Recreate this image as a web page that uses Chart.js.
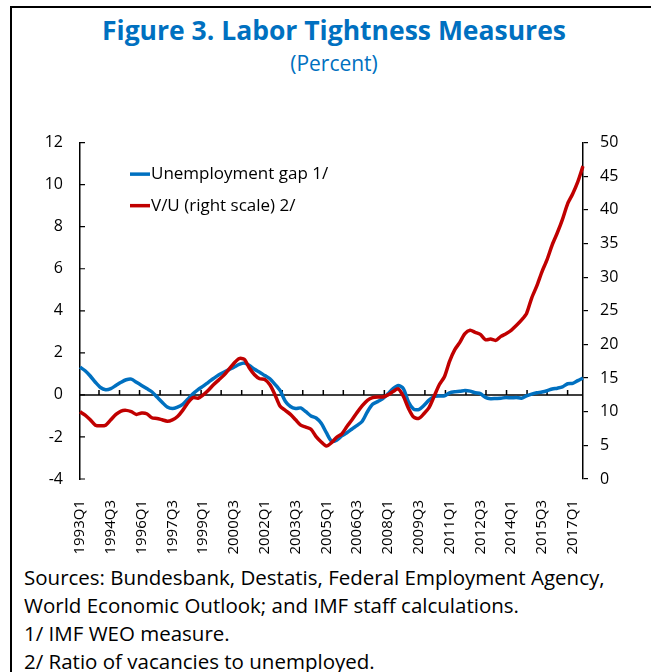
<!DOCTYPE html>
<html><head><meta charset="utf-8">
<script src="https://cdn.jsdelivr.net/npm/chart.js@4/dist/chart.umd.min.js"></script>
<style>
html,body{margin:0;padding:0;background:#fff;}
body{width:651px;height:672px;position:relative;overflow:hidden;font-family:"Open Sans",sans-serif;}
#frame{position:absolute;left:10px;top:6px;width:700px;height:720px;border-left:2px solid #000;border-top:2px solid #000;}
#title{position:absolute;left:0;width:668px;top:11px;text-align:center;color:#0070C0;font-weight:700;font-size:26.5px;line-height:38px;white-space:nowrap;}
#sub{position:absolute;left:0;width:668px;top:48px;text-align:center;color:#0070C0;font-size:21px;line-height:30px;}
#notes{position:absolute;left:24px;top:563px;font-size:20.5px;line-height:28px;color:#000;white-space:nowrap;}
#wrap{position:absolute;left:0;top:116px;width:651px;height:444px;}
</style></head>
<body>
<div id="frame"></div>
<div id="title">Figure 3. Labor Tightness Measures</div>
<div id="sub">(Percent)</div>
<div id="wrap"><canvas id="c"></canvas></div>
<div id="notes">Sources: Bundesbank, Destatis, Federal Employment Agency,<br>World Economic Outlook; and IMF staff calculations.<br>1/ IMF WEO measure.<br>2/ Ratio of vacancies to unemployed.</div>
<script>
const quarters = [
'1993Q1','1993Q2','1993Q3','1993Q4','1994Q1','1994Q2','1994Q3','1994Q4',
'1995Q1','1995Q2','1995Q3','1995Q4','1996Q1','1996Q2','1996Q3','1996Q4',
'1997Q1','1997Q2','1997Q3','1997Q4','1998Q1','1998Q2','1998Q3','1998Q4',
'1999Q1','1999Q2','1999Q3','1999Q4','2000Q1','2000Q2','2000Q3','2000Q4',
'2001Q1','2001Q2','2001Q3','2001Q4','2002Q1','2002Q2','2002Q3','2002Q4',
'2003Q1','2003Q2','2003Q3','2003Q4','2004Q1','2004Q2','2004Q3','2004Q4',
'2005Q1','2005Q2','2005Q3','2005Q4','2006Q1','2006Q2','2006Q3','2006Q4',
'2007Q1','2007Q2','2007Q3','2007Q4','2008Q1','2008Q2','2008Q3','2008Q4',
'2009Q1','2009Q2','2009Q3','2009Q4','2010Q1','2010Q2','2010Q3','2010Q4',
'2011Q1','2011Q2','2011Q3','2011Q4','2012Q1','2012Q2','2012Q3','2012Q4',
'2013Q1','2013Q2','2013Q3','2013Q4','2014Q1','2014Q2','2014Q3','2014Q4',
'2015Q1','2015Q2','2015Q3','2015Q4','2016Q1','2016Q2','2016Q3','2016Q4',
'2017Q1','2017Q2','2017Q3'];

const tickLabels = ['1993Q1','1994Q3','1996Q1','1997Q3','1999Q1','2000Q3','2002Q1','2003Q3',
'2005Q1','2006Q3','2008Q1','2009Q3','2011Q1','2012Q3','2014Q1','2015Q3','2017Q1'];

const unempGap = [
1.32,1.15,0.9,0.6,0.35,0.25,0.3,0.45,
0.6,0.72,0.75,0.6,0.45,0.3,0.15,-0.1,
-0.35,-0.58,-0.65,-0.58,-0.45,-0.2,0.05,0.25,
0.42,0.6,0.78,0.95,1.08,1.2,1.32,1.45,
1.52,1.4,1.22,1.08,0.92,0.77,0.5,0.2,
-0.3,-0.55,-0.65,-0.62,-0.8,-1.0,-1.1,-1.35,
-1.8,-2.2,-2.15,-1.95,-1.8,-1.62,-1.45,-1.25,
-0.8,-0.45,-0.32,-0.18,0.05,0.3,0.45,0.3,
-0.34,-0.68,-0.7,-0.5,-0.25,-0.07,-0.05,-0.05,
0.1,0.15,0.17,0.21,0.18,0.1,0.06,-0.12,
-0.18,-0.17,-0.16,-0.12,-0.14,-0.12,-0.16,-0.05,
0.04,0.1,0.14,0.2,0.28,0.32,0.38,0.53,
0.55,0.68,0.8];

const vuRatio = [
10.0,9.5,8.8,8.0,7.9,8.0,8.8,9.6,
10.1,10.2,10.0,9.6,9.8,9.7,9.1,9.0,
8.8,8.6,8.8,9.3,10.2,11.3,12.1,12.0,
12.5,13.2,14.0,14.7,15.4,16.3,17.2,17.9,
17.8,16.5,15.5,14.9,14.8,14.0,12.5,10.8,
10.2,9.6,8.8,8.0,7.7,7.4,6.3,5.5,
4.9,5.4,6.2,6.7,7.8,8.8,9.9,10.9,
11.7,12.1,12.2,12.2,12.5,13.0,13.4,12.3,
10.5,9.2,9.0,9.7,10.6,12.3,14.0,15.2,
17.5,19.2,20.3,21.6,22.1,21.8,21.5,20.7,
20.8,20.6,21.2,21.6,22.1,22.8,23.6,24.6,
26.9,28.7,30.8,32.6,34.8,36.6,38.6,40.9,
42.4,44.2,46.5];

const leftTicks = [-4,-2,0,2,4,6,8,10,12];
const seriesNames = ['Unemployment gap 1/','V/U (right scale) 2/'];
const seriesColors = ['#0070C0','#C00000'];
// x positions (category units) of the small tick marks on the zero line
const zeroLineTicks = [3.7,7.7,11.6,15.6,19.6,23.6,27.5,31.5,35.5,39.4,43.4,47.4,51.3,55.3,59.3,63.2,67.2,71.2,75.2,79.1,83.1,87.1,91.0,95.0];
// legend rows, in left-axis units
const legendRows = [10.5, 9.0];

const axisPlugin = {
  id: 'axisDecor',
  beforeDatasetsDraw(chart) {
    const ctx = chart.ctx, x = chart.scales.x, y = chart.scales.y;
    const y0 = y.getPixelForValue(0);
    ctx.save();
    ctx.strokeStyle = '#000';
    ctx.lineWidth = 1.5;
    ctx.beginPath();
    ctx.moveTo(x.left, y0); ctx.lineTo(x.right, y0);
    zeroLineTicks.forEach(k => {
      const px = x.getPixelForValue(k);
      ctx.moveTo(px, y0); ctx.lineTo(px, y0 - 5);
    });
    ctx.stroke();
    ctx.lineWidth = 1.2;
    ctx.beginPath();
    leftTicks.forEach(v => {
      const py = y.getPixelForValue(v);
      ctx.moveTo(y.right, py); ctx.lineTo(y.right + 5, py);
    });
    ctx.stroke();
    ctx.restore();
  },
  afterDraw(chart) {
    const ctx = chart.ctx, y = chart.scales.y;
    ctx.save();
    ctx.font = '17px "Open Sans"';
    ctx.textBaseline = 'middle';
    ctx.fillStyle = '#000';
    const x0 = 130;
    chart.data.datasets.forEach((ds, i) => {
      const py = y.getPixelForValue(legendRows[i]);
      ctx.strokeStyle = ds.borderColor;
      ctx.lineWidth = 3.5;
      ctx.beginPath();
      ctx.moveTo(x0, py); ctx.lineTo(x0 + 20, py);
      ctx.stroke();
      ctx.fillText(ds.label, x0 + 21, py);
    });
    ctx.restore();
  }
};

new Chart(document.getElementById('c'), {
  type: 'line',
  data: {
    labels: quarters,
    datasets: [
      {label: seriesNames[0], data: unempGap, yAxisID: 'y', borderColor: seriesColors[0], backgroundColor: seriesColors[0], borderWidth: 3.5, pointRadius: 0, tension: 0.25, order: 2},
      {label: seriesNames[1], data: vuRatio, yAxisID: 'y1', borderColor: seriesColors[1], backgroundColor: seriesColors[1], borderWidth: 3.5, pointRadius: 0, tension: 0.25, order: 1}
    ]
  },
  options: {
    responsive: true,
    maintainAspectRatio: false,
    animation: false,
    layout: {padding: {top: 10, left: 0, right: 0, bottom: 0}},
    plugins: {legend: {display: false}, tooltip: {enabled: false}},
    scales: {
      x: {
        type: 'category', offset: false,
        grid: {display: false}, border: {display: false},
        ticks: {autoSkip: false, maxRotation: 90, minRotation: 90, padding: 13, color: '#000', font: {family: '"Open Sans"', size: 15}},
        afterBuildTicks(s) { s.ticks = s.ticks.filter(t => tickLabels.includes(quarters[t.value])); },
        afterFit(s) { s.height = 81; }
      },
      y: {
        position: 'left', min: -4, max: 12,
        grid: {drawOnChartArea: false, drawTicks: false},
        border: {display: true, color: '#000', width: 1.5},
        ticks: {stepSize: 2, padding: 17, color: '#000', font: {family: '"Open Sans"', size: 16}},
        afterFit(s) { s.width = 80; }
      },
      y1: {
        position: 'right', min: 0, max: 50,
        grid: {drawOnChartArea: false, drawTicks: true, tickLength: 5, color: '#000', lineWidth: 1.2},
        border: {display: true, color: '#000', width: 1.5},
        ticks: {stepSize: 5, padding: 12, color: '#000', font: {family: '"Open Sans"', size: 16}},
        afterFit(s) { s.width = 68; }
      }
    }
  },
  plugins: [axisPlugin]
});
</script>
</body></html>
